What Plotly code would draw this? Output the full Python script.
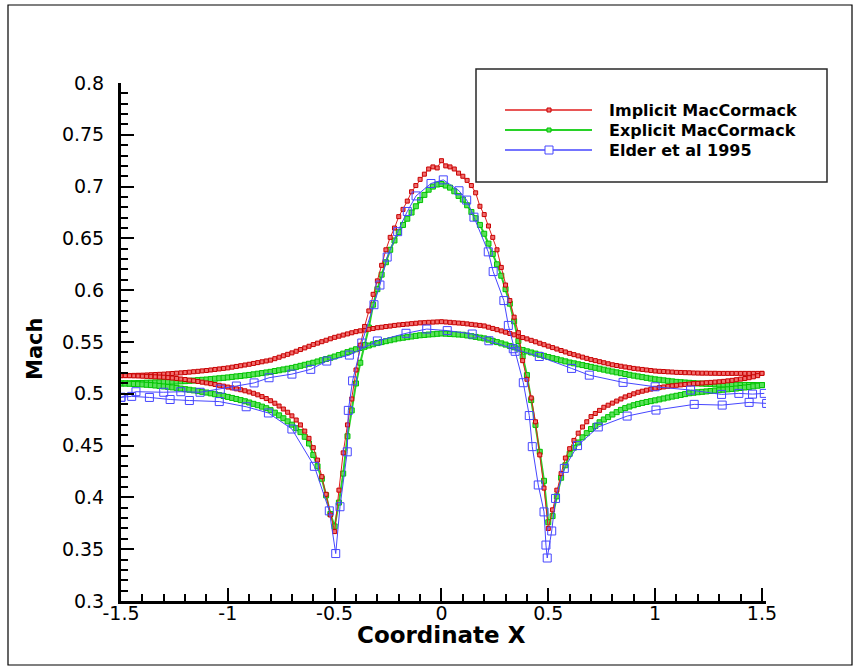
import plotly.graph_objects as go

# ---------------- data ----------------
X_SIM = [-1.5, -1.48, -1.46, -1.44, -1.42, -1.4, -1.38, -1.36, -1.34, -1.32,
         -1.3, -1.28, -1.26, -1.24, -1.22, -1.2, -1.18, -1.16, -1.14, -1.12,
         -1.1, -1.08, -1.06, -1.04, -1.02, -1.0, -0.98, -0.96, -0.94, -0.92,
         -0.9, -0.88, -0.86, -0.84, -0.82, -0.8, -0.78, -0.76, -0.74, -0.72,
         -0.7, -0.68, -0.66, -0.64, -0.62, -0.6, -0.58, -0.56, -0.54, -0.52,
         -0.5, -0.48, -0.46, -0.44, -0.42, -0.4, -0.38, -0.36, -0.34, -0.32,
         -0.3, -0.28, -0.26, -0.24, -0.22, -0.2, -0.18, -0.16, -0.14, -0.12,
         -0.1, -0.08, -0.06, -0.04, -0.02, 0.0, 0.02, 0.04, 0.06, 0.08,
         0.1, 0.12, 0.14, 0.16, 0.18, 0.2, 0.22, 0.24, 0.26, 0.28,
         0.3, 0.32, 0.34, 0.36, 0.38, 0.4, 0.42, 0.44, 0.46, 0.48,
         0.5, 0.52, 0.54, 0.56, 0.58, 0.6, 0.62, 0.64, 0.66, 0.68,
         0.7, 0.72, 0.74, 0.76, 0.78, 0.8, 0.82, 0.84, 0.86, 0.88,
         0.9, 0.92, 0.94, 0.96, 0.98, 1.0, 1.02, 1.04, 1.06, 1.08,
         1.1, 1.12, 1.14, 1.16, 1.18, 1.2, 1.22, 1.24, 1.26, 1.28,
         1.3, 1.32, 1.34, 1.36, 1.38, 1.4, 1.42, 1.44, 1.46, 1.48,
         1.5]

# Implicit MacCormack - curve with the two dips (lower wall)
IMPL_DIP = [.5175, .5175, .5174, .5173, .5172, .5170, .5168, .5166, .5164, .5162,
            .5160, .5156, .5152, .5148, .5143, .5138, .5132, .5126, .5119, .5112,
            .5105, .5098, .5090, .5082, .5074, .5065, .5057, .5048, .5039, .5029,
            .5018, .5005, .4990, .4973, .4954, .4933, .4909, .4882, .4853, .4822,
            .4787, .4747, .4700, .4640, .4570, .4480, .4360, .4200, .4030, .3830,
            .3670, .407, .443, .470, .495, .523, .547, .565, .580, .596,
            .609, .624, .639, .651, .660, .671, .678, .686, .695, .701,
            .707, .712, .717, .719, .718, .725, .720, .719, .717, .713,
            .710, .706, .701, .694, .681, .673, .662, .651, .639, .622,
            .605, .590, .574, .559, .532, .514, .496, .473, .441, .409,
            .370, .388, .407, .423, .438, .447, .455, .462, .468, .473,
            .478, .481, .484, .487, .489, .491, .493, .495, .497, .4985,
            .500, .5015, .5025, .5035, .5045, .5053, .506, .5066, .5072, .5077,
            .5082, .5086, .509, .5094, .5098, .5101, .5104, .5107, .511, .5113,
            .5116, .512, .5125, .513, .5136, .5142, .5148, .5155, .5164, .5175,
            .5197]

# Implicit MacCormack - smooth curve (upper wall)
IMPL_TOP = [.5175, .5176, .5177, .5178, .5179, .5180, .5182, .5184, .5186, .5188,
            .5190, .5193, .5196, .5199, .5202, .5205, .5209, .5213, .5217, .5221,
            .5225, .5230, .5235, .5240, .5245, .5250, .5257, .5264, .5271, .5278,
            .5285, .5293, .5301, .5309, .5317, .5325, .5339, .5353, .5367, .5381,
            .5395, .5411, .5427, .5443, .5459, .5475, .5489, .5503, .5517, .5531,
            .5545, .5556, .5567, .5578, .5589, .5600, .5608, .5615, .5623, .5630,
            .5638, .5643, .5649, .5654, .5660, .5665, .5669, .5673, .5677, .5681,
            .5685, .5687, .5690, .5692, .5694, .5696, .5693, .5690, .5686, .5683,
            .5680, .5675, .5670, .5665, .5660, .5655, .5643, .5631, .5619, .5607,
            .5595, .5582, .5569, .5556, .5543, .5530, .5516, .5502, .5488, .5474,
            .5460, .5446, .5432, .5418, .5404, .5390, .5378, .5366, .5354, .5342,
            .5330, .5320, .5310, .5300, .5290, .5280, .5273, .5266, .5259, .5252,
            .5245, .5240, .5235, .5230, .5225, .5220, .5217, .5215, .5212, .5210,
            .5207, .5206, .5204, .5203, .5201, .5200, .5199, .5199, .5198, .5198,
            .5197, .5197, .5197, .5197, .5197, .5197, .5197, .5197, .5197, .5197,
            .5197]

# Explicit MacCormack - curve with the two dips
EXPL_DIP = [.5100, .5099, .5097, .5095, .5093, .5090, .5087, .5084, .5080, .5076,
            .5071, .5067, .5062, .5057, .5051, .5045, .5039, .5033, .5026, .5019,
            .5012, .5004, .4996, .4988, .4979, .4970, .4960, .4950, .4939, .4928,
            .4916, .4903, .4890, .4876, .4861, .4842, .4818, .4792, .4764, .4734,
            .4702, .4668, .4630, .4585, .4520, .4410, .4300, .4180, .4020, .3840,
            .3720, .3950, .4230, .4590, .4840, .5100, .5300, .5470, .5640, .5860,
            .6010, .6150, .6270, .6390, .6480, .6560, .6630, .6690, .6750, .6810,
            .6870, .6920, .6970, .7000, .7020, .7025, .7010, .6990, .6955, .6910,
            .6875, .6820, .6755, .6695, .6630, .6545, .6450, .6350, .6250, .6140,
            .6010, .5870, .5700, .5510, .5360, .5180, .4940, .4700, .4440, .4160,
            .3760, .3820, .4010, .4190, .4310, .4420, .4480, .4530, .4580, .4620,
            .4660, .4690, .4725, .4752, .4775, .4800, .4823, .4845, .4862, .4877,
            .4890, .4902, .4912, .4921, .4929, .4937, .4946, .4955, .4964, .4973,
            .4981, .4989, .4997, .5005, .5010, .5015, .5019, .5023, .5027, .5031,
            .5035, .5039, .5043, .5047, .5051, .5056, .5061, .5066, .5072, .5078,
            .5084]

# Explicit MacCormack - smooth curve
EXPL_TOP = [.5100, .5101, .5102, .5103, .5104, .5105, .5107, .5108, .5110, .5111,
            .5113, .5115, .5117, .5118, .5120, .5122, .5125, .5128, .5132, .5135,
            .5138, .5142, .5146, .5150, .5154, .5158, .5163, .5168, .5172, .5177,
            .5182, .5188, .5194, .5200, .5206, .5212, .5220, .5227, .5235, .5242,
            .5250, .5260, .5270, .5280, .5290, .5300, .5312, .5324, .5336, .5348,
            .5360, .5374, .5388, .5402, .5416, .5430, .5442, .5454, .5466, .5478,
            .5490, .5499, .5508, .5517, .5526, .5535, .5541, .5547, .5553, .5559,
            .5565, .5568, .5572, .5575, .5579, .5582, .5580, .5577, .5575, .5572,
            .5570, .5563, .5556, .5549, .5542, .5535, .5523, .5511, .5499, .5487,
            .5475, .5462, .5449, .5436, .5423, .5410, .5399, .5388, .5377, .5366,
            .5355, .5344, .5334, .5323, .5313, .5302, .5294, .5285, .5277, .5268,
            .5260, .5251, .5242, .5233, .5224, .5215, .5207, .5199, .5191, .5183,
            .5175, .5168, .5161, .5154, .5147, .5140, .5135, .5130, .5125, .5120,
            .5115, .5112, .5109, .5106, .5103, .5100, .5098, .5096, .5094, .5092,
            .5090, .5089, .5088, .5088, .5087, .5086, .5086, .5085, .5085, .5084,
            .5084]

# Elder et al 1995 - curve with the two dips
ELDER_DIP_X = [-1.5, -1.45, -1.367, -1.27, -1.18, -1.04, -0.914, -0.81, -0.70, -0.595,
               -0.525, -0.495, -0.475, -0.441, -0.436, -0.416, -0.373, -0.316, -0.288, -0.254,
               -0.205, -0.16, -0.119, -0.049, 0.0085, 0.082, 0.118, 0.152, 0.219, 0.242,
               0.292, 0.313, 0.345, 0.383, 0.411, 0.425, 0.453, 0.48, 0.489, 0.495,
               0.516, 0.534, 0.575, 0.637, 0.734, 0.869, 1.004, 1.183, 1.314, 1.44,
               1.522]
ELDER_DIP_Y = [0.4966, 0.4975, 0.4965, 0.4945, 0.4935, 0.4925, 0.4875, 0.4815, 0.466, 0.430,
               0.387, 0.3458, 0.391, 0.444, 0.484, 0.5125, 0.549, 0.586, 0.605, 0.632,
               0.6565, 0.676, 0.691, 0.703, 0.7065, 0.696, 0.687, 0.6705, 0.637, 0.618,
               0.590, 0.566, 0.541, 0.5107, 0.479, 0.449, 0.412, 0.386, 0.354, 0.3415,
               0.3676, 0.399, 0.428, 0.450, 0.468, 0.4785, 0.4843, 0.4898, 0.4891, 0.4917,
               0.4907]

# Elder et al 1995 - smooth curve
ELDER_TOP_X = [-1.5, -1.43, -1.30, -1.22, -1.13, -1.035, -0.96, -0.877, -0.807, -0.70,
               -0.612, -0.537, -0.431, -0.30, -0.166, -0.069, 0.027, 0.144, 0.222, 0.336,
               0.458, 0.609, 0.692, 0.85, 1.0, 1.166, 1.311, 1.392, 1.456, 1.511]
ELDER_TOP_Y = [0.4966, 0.502, 0.5015, 0.502, 0.5015, 0.5045, 0.5075, 0.5105, 0.5155, 0.519,
               0.5236, 0.5316, 0.5374, 0.551, 0.5584, 0.5625, 0.561, 0.5577, 0.5512, 0.5435,
               0.536, 0.5245, 0.518, 0.511, 0.5068, 0.5036, 0.4994, 0.5004, 0.4997, 0.5004]

SERIES_NAMES = ["Implicit MacCormack", "Explicit MacCormack", "Elder et al 1995"]
X_TICKS = [-1.5, -1.0, -0.5, 0.0, 0.5, 1.0, 1.5]
X_TICK_TEXT = ["-1.5", "-1", "-0.5", "0", "0.5", "1", "1.5"]
Y_TICKS = [0.3, 0.35, 0.4, 0.45, 0.5, 0.55, 0.6, 0.65, 0.7, 0.75, 0.8]
Y_TICK_TEXT = ["0.3", "0.35", "0.4", "0.45", "0.5", "0.55", "0.6", "0.65", "0.7", "0.75", "0.8"]

# ---------------- styles ----------------
RED_LINE = "rgb(225,30,30)"
RED_MK = "rgb(240,110,110)"
RED_MK_EDGE = "rgb(200,0,0)"
GRN_LINE = "rgb(40,210,40)"
GRN_MK = "rgb(90,225,90)"
GRN_MK_EDGE = "rgb(0,195,0)"
BLU = "rgb(70,70,255)"

FIG_W, FIG_H = 860, 671
L, R, T, B = 121, 766, 83, 601
PW, PH = R - L, B - T


def px(x):
    return (x - L) / PW


def py(y):
    return (B - y) / PH


fig = go.Figure()

green_style = dict(mode="lines+markers", line=dict(color=GRN_LINE, width=2),
                   marker=dict(symbol="square", size=5, color=GRN_MK,
                               line=dict(color=GRN_MK_EDGE, width=1)),
                   showlegend=False, hoverinfo="skip")
red_style = dict(mode="lines+markers", line=dict(color=RED_LINE, width=1),
                 marker=dict(symbol="square", size=4, color=RED_MK,
                             line=dict(color=RED_MK_EDGE, width=1)),
                 showlegend=False, hoverinfo="skip")
blue_style = dict(mode="lines+markers", line=dict(color=BLU, width=1),
                  marker=dict(symbol="square-open", size=8, color=BLU,
                              line=dict(color=BLU, width=1)),
                  showlegend=False, hoverinfo="skip")

fig.add_trace(go.Scatter(x=X_SIM, y=EXPL_TOP, name=SERIES_NAMES[1], **green_style))
fig.add_trace(go.Scatter(x=X_SIM, y=EXPL_DIP, name=SERIES_NAMES[1], **green_style))
fig.add_trace(go.Scatter(x=X_SIM, y=IMPL_TOP, name=SERIES_NAMES[0], **red_style))
fig.add_trace(go.Scatter(x=X_SIM, y=IMPL_DIP, name=SERIES_NAMES[0], **red_style))
fig.add_trace(go.Scatter(x=ELDER_TOP_X, y=ELDER_TOP_Y, name=SERIES_NAMES[2], **blue_style))
fig.add_trace(go.Scatter(x=ELDER_DIP_X, y=ELDER_DIP_Y, name=SERIES_NAMES[2], **blue_style))

TICKFONT = dict(family="DejaVu Sans", size=19, color="black")

fig.update_xaxes(range=[-1.5, 1.519], showgrid=False, zeroline=False,
                 showline=True, linewidth=3, linecolor="black", mirror=False,
                 tickmode="array", tickvals=X_TICKS, ticktext=X_TICK_TEXT,
                 ticks="inside", ticklen=13, tickwidth=2, tickcolor="black",
                 tickfont=TICKFONT, ticklabelstandoff=-7,
                 minor=dict(ticks="inside", ticklen=7, tickwidth=1.5, tickcolor="black",
                            tickmode="linear", tick0=-1.5, dtick=0.1, showgrid=False))
fig.update_yaxes(range=[0.3, 0.8], showgrid=False, zeroline=False,
                 showline=True, linewidth=3, linecolor="black", mirror=False,
                 tickmode="array", tickvals=Y_TICKS, ticktext=Y_TICK_TEXT,
                 ticks="inside", ticklen=13, tickwidth=2, tickcolor="black",
                 tickfont=TICKFONT, ticklabelstandoff=10,
                 minor=dict(ticks="inside", ticklen=7, tickwidth=1.5, tickcolor="black",
                            tickmode="linear", tick0=0.3, dtick=0.01, showgrid=False))

shapes = []
annotations = []
# outer frame
shapes.append(dict(type="rect", xref="paper", yref="paper",
                   x0=px(8), x1=px(852), y0=py(665), y1=py(5),
                   line=dict(color="black", width=1.2), fillcolor="rgba(0,0,0,0)", layer="below"))
# legend box
shapes.append(dict(type="rect", xref="paper", yref="paper",
                   x0=px(476), x1=px(827), y0=py(182), y1=py(69),
                   line=dict(color="rgb(40,40,40)", width=1.5), fillcolor="white", layer="above"))

legend_rows = [
    (SERIES_NAMES[0], 110, RED_LINE, RED_MK_EDGE, RED_MK, 4, False),
    (SERIES_NAMES[1], 130, GRN_LINE, GRN_MK_EDGE, GRN_MK, 4, False),
    (SERIES_NAMES[2], 150, BLU, BLU, None, 8, True),
]
for name, yrow, lc, mec, mfc, msz, hollow in legend_rows:
    shapes.append(dict(type="line", xref="paper", yref="paper",
                       x0=px(505), x1=px(592), y0=py(yrow), y1=py(yrow),
                       line=dict(color=lc, width=2 if lc == GRN_LINE else 1.5), layer="above"))
    h = msz / 2
    shapes.append(dict(type="rect", xref="paper", yref="paper",
                       x0=px(549 - h), x1=px(549 + h), y0=py(yrow + h), y1=py(yrow - h),
                       line=dict(color=mec, width=1),
                       fillcolor="white" if hollow else mfc, layer="above"))
    annotations.append(dict(xref="paper", yref="paper", x=px(607), y=py(yrow),
                            xanchor="left", yanchor="middle", showarrow=False,
                            text="<b>%s</b>" % name,
                            font=dict(family="DejaVu Sans", size=16, color="black")))

# axis titles
annotations.append(dict(xref="paper", yref="paper", x=px(441), y=py(635),
                        xanchor="center", yanchor="middle", showarrow=False,
                        text="<b>Coordinate X</b>",
                        font=dict(family="DejaVu Sans", size=23, color="black")))
annotations.append(dict(xref="paper", yref="paper", x=px(35), y=py(349),
                        xanchor="center", yanchor="middle", showarrow=False, textangle=-90,
                        text="<b>Mach</b>",
                        font=dict(family="DejaVu Sans", size=21, color="black")))

fig.update_layout(width=FIG_W, height=FIG_H,
                  margin=dict(l=L, r=FIG_W - R, t=T, b=FIG_H - B, pad=0),
                  paper_bgcolor="white", plot_bgcolor="white",
                  showlegend=False, shapes=shapes, annotations=annotations)

fig.write_html("out.html")
